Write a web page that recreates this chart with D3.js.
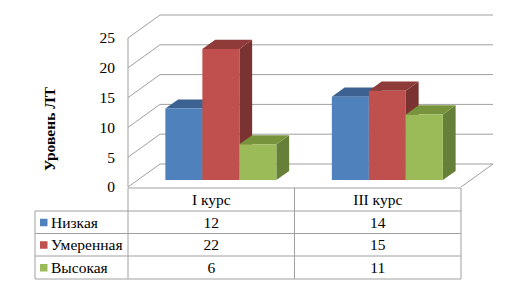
<!DOCTYPE html>
<html><head><meta charset="utf-8">
<script src="https://cdn.jsdelivr.net/npm/d3@7"></script>
<style>body{margin:0;background:#fff}svg{display:block}</style>
</head><body>
<script>
const categories = ["I курс", "III курс"];
const seriesNames = ["Низкая", "Умеренная", "Высокая"];
const valuesLow = [12, 14];
const valuesModerate = [22, 15];
const valuesHigh = [6, 11];
const yTicks = [0, 5, 10, 15, 20, 25];
const yTitle = "Уровень ЛТ";

const seriesValues = [valuesLow, valuesModerate, valuesHigh];
const colors = [
  {front:"#4F81BD", top:"#3B6291", side:"#2F4F75"},
  {front:"#C0504D", top:"#8E3B39", side:"#7A3331"},
  {front:"#9BBB59", top:"#77933C", side:"#66803A"}
];
const fontFamily = "Liberation Serif";
const fs = 15.5;

const W = 512, H = 291;
const svg = d3.select("body").append("svg").attr("width", W).attr("height", H);

const DX = 32, DY = -23;
const x = d3.scaleBand().domain(categories).range([128, 461]);
const inner = d3.scaleBand().domain(seriesNames).range([x.bandwidth()/6, x.bandwidth()*5/6]);
const y = d3.scaleLinear().domain([0, 25]).range([187, 38]);
const P = (px, v, d) => [px + d*DX, y(v) + d*DY];

const grid = svg.append("g").attr("fill","none").attr("stroke","#a0a0a0").attr("stroke-width",1);
yTicks.forEach(t => {
  const a = P(128, t, 0), b = P(128, t, 1), c = P(461, t, 1);
  grid.append("polyline").attr("points", [a,b,c].map(p=>p.join(",")).join(" "));
});
grid.append("line").attr("x1",128).attr("x2",128).attr("y1",y(25)).attr("y2",y(0));
{
  const a = P(461,0,0), b = P(461,0,1);
  grid.append("line").attr("x1",a[0]).attr("y1",a[1]).attr("x2",b[0]).attr("y2",b[1]);
}

svg.append("g").selectAll("text").data(yTicks).join("text")
  .attr("x", 115).attr("y", d => y(d)).attr("dy","0.35em")
  .attr("text-anchor","end").attr("font-family",fontFamily).attr("font-size",fs).attr("fill","#000")
  .text(d=>d);

svg.append("text").attr("transform","translate(55,129) rotate(-90)")
  .attr("text-anchor","middle").attr("font-family",fontFamily).attr("font-size",fs)
  .attr("font-weight","bold").text(yTitle);

const d0 = 0.3, d1 = 0.7;
const bars = svg.append("g");
categories.forEach((cat, ci) => {
  seriesNames.forEach((s, si) => {
    const v = seriesValues[si][ci];
    const xl = x(cat) + inner(s), xr = xl + inner.bandwidth();
    const fbl = P(xl,0,d0), fbr = P(xr,0,d0), ftl = P(xl,v,d0), ftr = P(xr,v,d0);
    const btl = P(xl,v,d1), btr = P(xr,v,d1), bbr = P(xr,0,d1);
    const g = bars.append("g");
    g.append("polygon").attr("points",[ftr,btr,bbr,fbr].map(p=>p.join(",")).join(" ")).attr("fill",colors[si].side);
    g.append("polygon").attr("points",[ftl,btl,btr,ftr].map(p=>p.join(",")).join(" ")).attr("fill",colors[si].top);
    g.append("polygon").attr("points",[ftl,ftr,fbr,fbl].map(p=>p.join(",")).join(" ")).attr("fill",colors[si].front);
  });
});

const rowY = [188, 211, 233.5, 256, 279];
const tableLeft = 35;
const tb = svg.append("g").attr("stroke","#a0a0a0").attr("stroke-width",1).attr("fill","none");
tb.append("line").attr("x1",128).attr("x2",461).attr("y1",rowY[0]).attr("y2",rowY[0]);
rowY.slice(1).forEach(ry => tb.append("line").attr("x1",tableLeft).attr("x2",461).attr("y1",ry).attr("y2",ry));
tb.append("line").attr("x1",tableLeft).attr("x2",tableLeft).attr("y1",rowY[1]).attr("y2",rowY[4]);
[128, x(categories[1]), 461].forEach(cx => tb.append("line").attr("x1",cx).attr("x2",cx).attr("y1",rowY[0]).attr("y2",rowY[4]));

const tt = svg.append("g").attr("fill","#000");
categories.forEach((cat, ci) => {
  tt.append("text").attr("x", x(cat)+x.bandwidth()/2).attr("y",(rowY[0]+rowY[1])/2).attr("dy","0.35em")
    .attr("text-anchor","middle").attr("font-family",fontFamily).attr("font-size",fs).text(cat);
  seriesNames.forEach((s, si) => {
    tt.append("text").attr("x", x(cat)+x.bandwidth()/2).attr("y",(rowY[si+1]+rowY[si+2])/2).attr("dy","0.35em")
      .attr("text-anchor","middle").attr("font-family",fontFamily).attr("font-size",fs).text(seriesValues[si][ci]);
  });
});
seriesNames.forEach((s, si) => {
  const cy = (rowY[si+1]+rowY[si+2])/2;
  svg.append("rect").attr("x",40).attr("y",cy-3.5).attr("width",7.5).attr("height",7.5).attr("fill",colors[si].front);
  tt.append("text").attr("x",51).attr("y",cy).attr("dy","0.35em").attr("font-family",fontFamily).attr("font-size",fs).text(s);
});
</script>
</body></html>
